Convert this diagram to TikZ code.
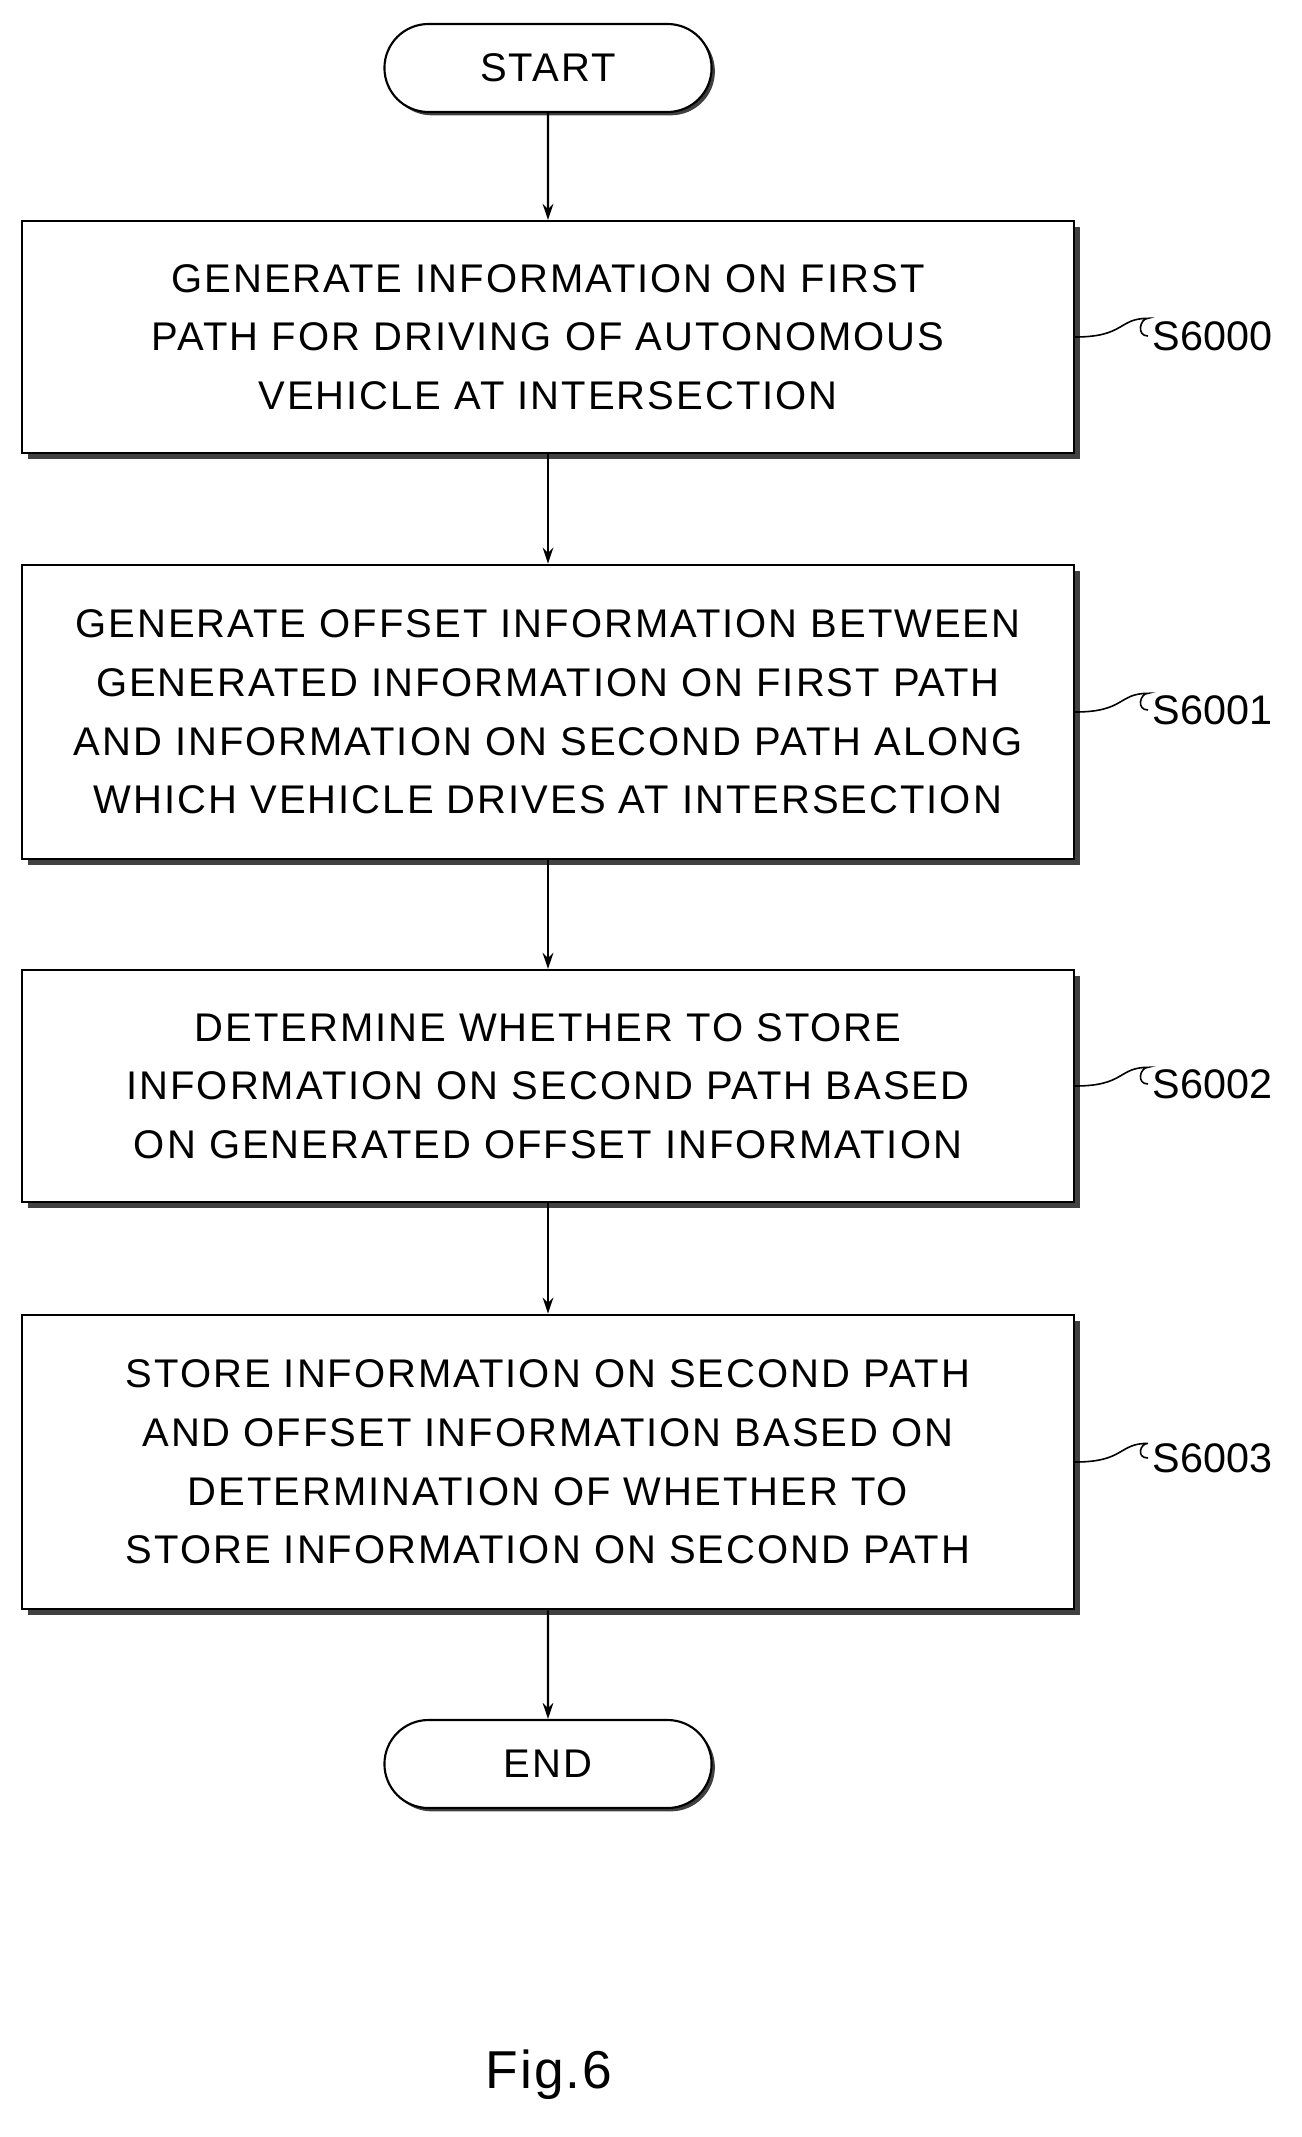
\documentclass[tikz,border=0pt]{standalone}
\usepackage{fontspec}
\setmainfont{Liberation Sans}
\usetikzlibrary{shapes.misc,arrows.meta}

\tikzset{
  stepbox/.style={draw, line width=1.6pt, fill=white, minimum width=789pt, minimum height=#1,
    align=center, font=\fontsize{30}{44}\selectfont\addfontfeature{LetterSpace=5},
    preaction={fill=black!75, transform canvas={shift={(4.5pt,-4.5pt)}}}},
  termbox/.style={draw, line width=1.6pt, rounded rectangle, fill=white, minimum width=252pt,
    minimum height=66pt, font=\fontsize{30}{44}\selectfont\addfontfeature{LetterSpace=5},
    preaction={fill=black!75, transform canvas={shift={(2.5pt,-2.5pt)}}}},
  steplabel/.style={font=\fontsize{31}{44}\selectfont, anchor=west},
  flow/.style={line width=1.6pt, -{Stealth[length=12pt,width=8pt]}}
}

\begin{document}
\begin{tikzpicture}[x=0.75pt,y=0.75pt,yscale=-1,xscale=1]
\useasboundingbox (0,0) rectangle (1302,2137);

% terminals and steps
\node[termbox] (start) at (548,68) {START};
\node[stepbox=174pt] (gen) at (548,337) {GENERATE INFORMATION ON FIRST\\PATH FOR DRIVING OF AUTONOMOUS\\VEHICLE AT INTERSECTION};
\node[stepbox=221pt] (offset) at (548,712) {GENERATE OFFSET INFORMATION BETWEEN\\GENERATED INFORMATION ON FIRST PATH\\AND INFORMATION ON SECOND PATH ALONG\\WHICH VEHICLE DRIVES AT INTERSECTION};
\node[stepbox=174pt] (decide) at (548,1086) {DETERMINE WHETHER TO STORE\\INFORMATION ON SECOND PATH BASED\\ON GENERATED OFFSET INFORMATION};
\node[stepbox=221pt] (store) at (548,1462) {STORE INFORMATION ON SECOND PATH\\AND OFFSET INFORMATION BASED ON\\DETERMINATION OF WHETHER TO\\STORE INFORMATION ON SECOND PATH};
\node[termbox] (end) at (548,1764) {END};

% step labels
\node[steplabel] (s0) at (1148,336) {S6000};
\node[steplabel] (s1) at (1148,710) {S6001};
\node[steplabel] (s2) at (1148,1084) {S6002};
\node[steplabel] (s3) at (1148,1458) {S6003};

% arrows
\draw[flow] (start) -- (gen);
\draw[flow] (gen) -- (offset);
\draw[flow] (offset) -- (decide);
\draw[flow] (decide) -- (store);
\draw[flow] (store) -- (end);

% label ties
\foreach \b/\l in {gen/s0, offset/s1, decide/s2, store/s3}
  \draw[line width=1.2pt] (\b.east) .. controls +(50,0) and +(-30,0) .. ([yshift=-14]\b.east -| \l.west)
    .. controls +(-8,0) and +(-12,0) .. (\l.west);

\node[font=\fontsize{40}{48}\selectfont\addfontfeature{LetterSpace=4}] (fig) at (549,2075) {Fig.6};
\end{tikzpicture}
\end{document}
